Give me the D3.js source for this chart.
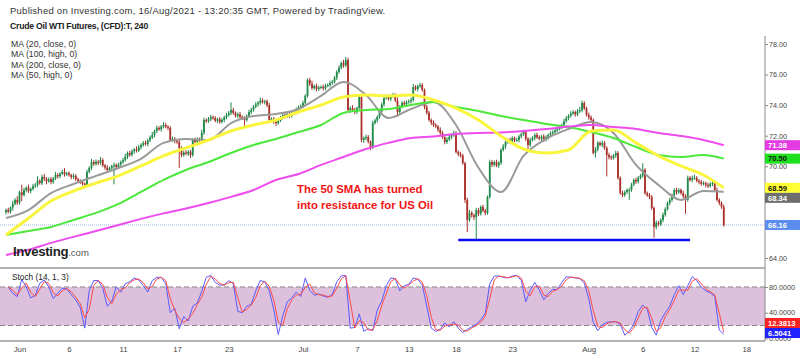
<!DOCTYPE html>
<html><head><meta charset="utf-8">
<script src="https://cdn.jsdelivr.net/npm/d3@7"></script>
<style>body{margin:0;background:#fff}svg{display:block}text{font-family:"Liberation Sans",Arial,sans-serif}</style>
</head><body><svg id="c" width="800" height="357"></svg>
<script>
// ---------- DATA ----------
const headerText="Published on Investing.com, 16/Aug/2021 - 13:20:35 GMT, Powered by TradingView.";
const titleText="Crude Oil WTI Futures, (CFD):T, 240";
const maLegend=["MA (20, close, 0)","MA (100, high, 0)","MA (200, close, 0)","MA (50, high, 0)"];
const firstOpen=67.00;
const closes=[
67.14,67.02,67.30,67.55,67.80,67.62,68.30,68.12,68.45,68.60,
68.38,68.52,68.70,68.78,69.05,68.90,69.30,69.18,69.02,69.15,
68.97,69.20,69.43,69.35,69.52,69.63,69.48,69.55,69.43,69.30,
69.38,69.15,69.05,68.97,68.85,68.78,69.63,69.90,70.28,70.15,
70.30,70.22,70.41,70.05,69.92,69.76,69.88,70.02,70.09,69.95,
70.12,70.28,70.40,70.62,70.87,70.75,70.98,71.10,71.02,71.25,
71.40,71.53,71.45,71.70,71.88,72.05,72.30,72.51,72.42,72.60,
72.70,72.58,72.51,71.72,71.80,71.65,71.59,71.20,70.74,70.90,
70.82,70.95,70.74,71.72,71.60,71.78,71.72,72.20,73.03,72.95,
73.10,73.22,73.16,72.98,73.08,72.90,73.03,73.20,73.35,73.50,
73.68,73.49,73.30,73.40,73.23,73.15,73.03,73.30,73.55,73.70,
73.90,74.05,74.14,74.30,74.20,74.25,74.00,73.03,73.10,72.90,
72.83,73.00,73.20,73.36,73.25,73.40,73.30,73.48,73.55,73.70,
73.85,73.95,74.14,74.60,75.65,75.40,75.12,75.25,75.05,75.15,
75.19,75.10,75.28,75.32,75.45,75.52,75.80,76.17,76.45,76.76,
76.60,76.95,73.68,73.80,73.68,73.55,73.81,74.53,71.72,71.85,
71.92,71.60,71.26,72.83,73.00,73.23,73.60,74.05,74.47,74.55,
74.40,74.60,74.66,74.30,73.55,73.90,74.14,74.05,74.20,74.25,
74.34,75.19,75.05,75.25,75.32,74.99,73.88,73.50,73.03,72.85,
72.70,72.60,72.40,72.18,71.90,71.59,71.75,71.92,72.05,72.18,
70.94,70.80,70.70,70.20,67.80,66.49,66.95,66.80,66.68,67.14,
66.90,67.34,67.10,66.95,67.99,70.28,70.10,70.28,70.05,70.22,
71.07,71.30,71.59,71.72,71.60,71.85,71.70,71.72,71.95,72.10,
72.24,71.80,71.39,71.72,71.85,72.05,71.90,71.80,71.95,71.72,
71.90,72.05,72.15,72.24,72.35,72.45,72.57,72.70,72.95,73.16,
73.30,73.45,73.55,73.40,73.60,73.68,74.14,73.80,73.36,73.20,
73.03,70.87,71.10,71.53,71.40,71.53,71.20,70.74,70.60,70.54,
70.70,70.87,69.24,68.25,68.12,68.30,68.45,68.45,68.80,69.11,
69.00,69.24,69.40,69.76,68.25,68.10,67.99,67.27,66.03,66.30,
66.20,66.49,66.82,67.20,67.60,67.80,68.10,68.45,68.30,68.45,
68.25,68.05,67.80,69.24,69.10,69.24,69.24,69.05,68.97,68.85,
68.90,68.78,68.70,68.85,68.91,68.45,67.80,67.60,67.34,66.16];
const upWick=[
.10,.15,.08,.20,.12,.25,.10,.50,.15,.10,.20,.10,.15,.12,.30,.10,.15,.20,.10,.12,
.15,.10,.20,.12,.10,.15,.25,.10,.12,.08,.15,.10,.12,.10,.08,.10,.15,.10,.20,.12,
.15,.10,.20,.12,.10,.15,.10,.08,.15,.10,.12,.10,.15,.20,.10,.15,.12,.10,.20,.15,
.10,.12,.15,.10,.12,.20,.10,.15,.12,.10,.20,.15,.10,.12,.15,.10,.12,.15,.10,.12,
.15,.10,.12,.10,.15,.12,.10,.20,.15,.10,.12,.15,.10,.12,.10,.15,.12,.10,.15,.12,
.50,.15,.10,.12,.15,.10,.12,.10,.15,.12,.10,.15,.12,.20,.15,.10,.12,.15,.10,.12,
.15,.12,.10,.15,.12,.10,.15,.12,.10,.15,.12,.10,.15,.12,.10,.15,.20,.10,.15,.12,
.10,.15,.12,.10,.15,.12,.10,.12,.15,.10,.20,.20,.15,.12,.20,.15,.10,.15,.12,.10,
.15,.12,.10,.15,.12,.10,.15,.12,.10,.15,.12,.10,.15,.12,.20,.10,.12,.15,.10,.12,
.15,.20,.12,.10,.15,.12,.10,.15,.12,.10,.15,.12,.10,.15,.12,.10,.15,.12,.10,.15,
.12,.10,.15,.12,.10,.15,.20,.12,.10,.15,.12,.10,.15,.12,.10,.15,.12,.10,.15,.12,
.10,.15,.12,.10,.15,.12,.10,.15,.12,.10,.15,.12,.10,.15,.12,.10,.15,.12,.10,.15,
.12,.10,.15,.12,.10,.15,.12,.10,.15,.12,.10,.15,.12,.10,.15,.20,.15,.12,.10,.15,
.12,.10,.15,.12,.10,.15,.12,.10,.15,.12,.10,.15,.12,.10,.15,.12,.10,.15,.12,.10,
.15,.12,.10,.45,.12,.10,.15,.12,.10,.15,.12,.10,.15,.12,.10,.15,.12,.10,.15,.12,
.10,.15,.12,.15,.12,.15,.20,.12,.10,.15,.12,.10,.15,.12,.20,.10,.15,.12,.10,.15];
const downWick=[
.15,.10,.12,.20,.10,.15,.12,.40,.10,.15,.12,.15,.10,.12,.15,.10,.12,.15,.20,.10,
.15,.12,.10,.15,.12,.10,.15,.12,.10,.15,.12,.10,.15,.12,.10,.20,.12,.10,.15,.12,
.10,.15,.12,.10,.15,.12,.10,.15,1.20,.12,.10,.15,.12,.10,.15,.12,.10,.15,.12,.10,
.15,.12,.10,.15,.12,.10,.15,.12,.10,.15,.12,.10,.15,.12,.10,.15,.12,1.30,.15,.12,
.10,.15,.20,.12,.10,.15,.12,.10,.15,.12,.10,.15,.12,.10,.15,.12,.10,.15,.12,.10,
.15,.12,.10,.15,.12,.10,.50,.12,.10,.15,.12,.10,.15,.12,.10,.15,.12,.10,.15,.12,
.20,.12,.10,.15,.12,.10,.15,.12,.10,.15,.12,.10,.15,.12,.10,.15,.12,.10,.15,.12,
.10,.15,.12,.10,.15,.12,.10,.15,.12,.10,.15,.12,.10,.20,.12,.15,.12,.10,.15,.20,
.15,.10,.20,.12,.10,.15,.12,.10,.15,.12,.10,.15,.12,.10,.30,.12,.10,.15,.12,.10,
.15,.12,.10,.15,.12,.10,.15,.12,.10,.15,.12,.10,.15,.12,.10,.15,.12,.10,.15,.12,
.10,.15,.12,.10,.20,.80,.12,.15,.20,1.50,.15,.12,.10,.15,.12,.10,.15,.12,.10,.15,
.12,.10,.15,.12,.10,.15,.12,.10,.15,.12,.10,.15,.40,.12,.10,.15,.12,.10,.15,.12,
.10,.15,.12,.10,.15,.12,.10,.15,.12,.10,.15,.12,.10,.15,.12,.10,.15,.12,.10,.15,
.12,.10,.30,.12,.10,.15,.12,1.40,.15,.12,.10,.15,.12,.10,.15,.12,.10,.65,.12,.10,
.15,.12,.10,.15,.12,.10,.15,.12,.70,.15,.12,.10,.15,.12,.10,.15,.12,.10,.15,.12,
.10,.15,.90,.12,.10,.15,.12,.10,.15,.12,.10,.15,.12,.10,.15,.12,.10,.15,.12,.10];
const maBars=[0,10,20,30,40,50,60,70,80,90,100,110,120,130,140,150,160,170,180,190,200,210,220,230,240,250,260,270,280,290,300,310,319];
const ma20=[66.62,67.14,68.25,68.84,69.37,69.89,70.48,71.53,71.79,71.72,72.83,73.29,73.42,73.75,74.60,75.52,74.66,73.16,73.75,74.20,72.70,69.90,68.32,70.68,71.79,72.44,72.90,72.18,70.09,68.78,67.80,68.38,68.34];
const ma50=[65.51,66.60,67.73,68.38,68.90,69.37,70.02,70.68,71.20,71.72,72.31,72.70,73.03,73.55,74.01,74.53,74.66,74.60,74.66,74.34,73.81,73.03,71.98,71.13,70.87,71.07,72.31,72.38,71.53,70.68,70.02,69.43,68.59];
const ma100=[65.51,65.77,66.03,66.49,66.95,67.54,68.32,69.11,69.76,70.28,70.87,71.39,71.79,72.24,72.70,73.49,73.68,73.75,74.01,74.20,73.88,73.62,73.29,73.03,72.77,72.57,72.24,71.85,71.26,70.74,70.61,70.74,70.50];
const ma200=[64.20,64.53,64.99,65.38,65.77,66.16,66.56,66.92,67.24,67.60,68.00,68.45,69.10,69.50,70.09,70.61,71.13,71.53,71.85,71.95,72.11,72.18,72.21,72.31,72.44,72.60,72.70,72.57,72.44,72.18,71.98,71.72,71.38];
// Stochastic %K, one value every 2 bars (bars 1,3,5,...,319)
const stochK=[80,70,65,92,80,63,67,86,91,80, 62,70,78,77,68,60,48,16,75,90, 90,78,50,58,80,72,85,88,94,91,
82,72,90,95,95,85,40,47,15,34, 27,50,55,73,95,98,87,83,83,90, 85,42,40,50,53,74,90,88,74,45,
6,35,57,63,72,65,94,75,67,69, 66,64,68,88,97,98,16,17,38,11, 15,12,44,58,82,94,93,74,82,84,
94,92,83,50,16,11,14,24,18,26, 16,9,14,18,22,29,39,85,97,97, 95,94,97,98,90,57,75,87,75,60,
70,76,76,87,96,95,94,93,86,62, 25,12,21,25,26,26,22,5,11,22, 42,52,45,17,5,28,40,50,68,82,
68,82,96,90,80,74,71,65,13,6.5];
const stochLastK=6.5041, stochLastD=12.3813;
const priceTicks=[64,66,68,70,72,74,76,78];
const stochTicks=[0,40,80];
const stochBands=[20,80];
const tickBars=[6,28,52,76,99,132,156,179,200,225,259,283,306,329];
const tickLabels=["Jun","6","11","17","23","Jul","7","13","18","23","Aug","6","12","18"];
const support={level:65.18,from:201,to:304};
const noteLines=["The 50 SMA has turned","into resistance for US Oil"];

// ---------- CHART ----------
const svg=d3.select("#c");
const AX=765;
const x=d3.scaleLinear().domain([0,closes.length-1]).range([6,723.75]);
const yM=d3.scaleLinear().domain([64,78]).range([258,44]);
const yS=d3.scaleLinear().domain([0,100]).range([338.4,274.1]);
const UP="#1f8a4a", DN="#a9302b";

// header
svg.append("text").attr("x",10).attr("y",13.5).attr("font-size",9.5).attr("letter-spacing",0.25).attr("fill","#333").text(headerText);
svg.append("text").attr("x",10).attr("y",29.3).attr("font-size",8.7).attr("letter-spacing",-0.25).attr("font-weight","bold").attr("fill","#222").text(titleText);
maLegend.forEach((t,i)=>svg.append("text").attr("x",11).attr("y",47+i*10.4).attr("font-size",8.7).attr("fill","#333").text(t));

// stoch band
svg.append("rect").attr("x",0).attr("width",AX).attr("y",yS(stochBands[1])).attr("height",yS(stochBands[0])-yS(stochBands[1])).attr("fill","#dcc0dc");
stochBands.forEach(v=>svg.append("line").attr("x1",0).attr("x2",AX).attr("y1",yS(v)).attr("y2",yS(v)).attr("stroke","#888").attr("stroke-dasharray","5,3").attr("stroke-width",1));

// last price dotted line
svg.append("line").attr("x1",0).attr("x2",AX).attr("y1",yM(closes[closes.length-1])).attr("y2",yM(closes[closes.length-1]))
  .attr("stroke","#9db7ee").attr("stroke-dasharray","1,1").attr("stroke-width",1);

// candles
const bars=closes.map((c,i)=>{const o=i?closes[i-1]:firstOpen;return {i,o,c,h:Math.max(o,c)+upWick[i],l:Math.min(o,c)-downWick[i]};});
const cg=svg.append("g");
cg.selectAll("line").data(bars).join("line")
  .attr("x1",d=>x(d.i)).attr("x2",d=>x(d.i)).attr("y1",d=>yM(d.h)).attr("y2",d=>yM(d.l))
  .attr("stroke",d=>d.c>=d.o?UP:DN).attr("stroke-width",1);
cg.selectAll("rect").data(bars).join("rect")
  .attr("x",d=>x(d.i)-0.9).attr("width",1.8)
  .attr("y",d=>yM(Math.max(d.o,d.c))).attr("height",d=>Math.max(1,Math.abs(yM(d.o)-yM(d.c))))
  .attr("fill",d=>d.c>=d.o?UP:DN);

// MAs
const maLine=d3.line().x(d=>x(d[0])).y(d=>yM(d[1])).curve(d3.curveMonotoneX);
const mas=[{v:ma20,c:"#9a9a9a",w:2},{v:ma100,c:"#4be83a",w:2},{v:ma200,c:"#ee4cee",w:2},{v:ma50,c:"#f9f53c",w:3}];
mas.forEach(m=>svg.append("path").attr("d",maLine(maBars.map((b,i)=>[b,m.v[i]]))).attr("fill","none").attr("stroke",m.c).attr("stroke-width",m.w));

// support line
svg.append("line").attr("x1",x(support.from)).attr("x2",x(support.to)).attr("y1",yM(support.level)).attr("y2",yM(support.level))
  .attr("stroke","#0a0af0").attr("stroke-width",2.5);

// annotation
const note=svg.append("text").attr("font-family","Lato, 'Open Sans', sans-serif").attr("font-weight","bold").attr("font-size",11.4).attr("fill","#f01414");
noteLines.forEach((t,i)=>note.append("tspan").attr("x",297).attr("y",193+i*15.5).text(t));

// logo
const logo=svg.append("text").attr("x",13).attr("y",256).attr("font-size",13.2).attr("font-weight","bold").attr("fill","#1e1e1e").attr("letter-spacing",-0.3);
logo.append("tspan").text("Investing");
logo.append("tspan").attr("font-size",9.5).attr("font-weight","normal").attr("fill","#555").attr("letter-spacing",0).text(".com");

// stoch lines
const kPts=stochK.map((v,k)=>[Math.min(2*k+1,closes.length-1),v]);
const dPts=kPts.map((p,k)=>[p[0],k?(stochK[k-1]+stochK[k])/2:stochK[0]]);
const sLine=d3.line().x(d=>x(d[0])).y(d=>yS(d[1]));
svg.append("path").attr("d",sLine(kPts)).attr("fill","none").attr("stroke","#5a5aff").attr("stroke-width",1);
svg.append("path").attr("d",sLine(dPts)).attr("fill","none").attr("stroke","#ff4a4a").attr("stroke-width",1);
svg.append("text").attr("x",12).attr("y",280).attr("font-size",8.3).attr("fill","#222").text("Stoch (14, 1, 3)");

// frame lines
svg.append("line").attr("x1",0).attr("x2",AX).attr("y1",268).attr("y2",268).attr("stroke","#9a9a9a").attr("stroke-width",1.5);
svg.append("line").attr("x1",0).attr("x2",AX).attr("y1",341).attr("y2",341).attr("stroke","#9a9a9a").attr("stroke-width",1.5);
svg.append("line").attr("x1",AX).attr("x2",AX).attr("y1",36).attr("y2",341).attr("stroke","#8a8a8a").attr("stroke-width",1);

// value boxes (positions resolved first so covered axis labels can be skipped)
function place(items,h,maxY){items.sort((a,b)=>a.y-b.y);for(let j=1;j<items.length;j++)if(items[j].y<items[j-1].y+h)items[j].y=items[j-1].y+h;
  const n=items.length;if(items[n-1].y>maxY){items[n-1].y=maxY;for(let j=n-2;j>=0;j--)if(items[j].y>items[j+1].y-h)items[j].y=items[j+1].y-h;}return items;}
const last=a=>a[a.length-1];
const mainBoxes=place([
 {v:last(ma200),bg:"#e23ce2",fg:"#fff",f:d3.format(".2f")},
 {v:last(ma100),bg:"#1fe01f",fg:"#111",f:d3.format(".2f")},
 {v:last(ma50),bg:"#ffff33",fg:"#111",f:d3.format(".2f")},
 {v:last(ma20),bg:"#6e6e6e",fg:"#fff",f:d3.format(".2f")},
 {v:last(closes),bg:"#5b8dee",fg:"#fff",f:d3.format(".2f")}].map(d=>({...d,y:yM(d.v)})),10,262);
const stochBoxes=place([
 {v:stochLastD,bg:"#ff2222",fg:"#fff",f:d3.format(".4f")},
 {v:stochLastK,bg:"#2222ff",fg:"#fff",f:d3.format(".4f")}].map(d=>({...d,y:yS(d.v)})),10,333);
const covered=v=>mainBoxes.some(b=>Math.abs(yM(v)-b.y)<7);

// axes
const ay=svg.append("g").attr("transform",`translate(${AX},0)`).call(d3.axisRight(yM).tickValues(priceTicks.filter(v=>!covered(v))).tickFormat(d3.format(".2f")).tickSize(3));
const as=svg.append("g").attr("transform",`translate(${AX},0)`).call(d3.axisRight(yS).tickValues(stochTicks).tickFormat(d3.format(".4f")).tickSize(3));
const axb=svg.append("g").attr("transform","translate(0,341)").call(d3.axisBottom(x).tickValues(tickBars).tickFormat((d,i)=>tickLabels[i]).tickSize(0));
[ay,as,axb].forEach(g=>{g.select(".domain").remove();g.selectAll("text").attr("fill","#444").attr("font-family","Liberation Sans, Arial, sans-serif");g.selectAll("line").attr("stroke","#888");});
ay.selectAll("text").attr("x",4).attr("font-size",7.2);
as.selectAll("text").attr("x",4).attr("font-size",7.2);
axb.selectAll("text").attr("dy",0).attr("y",11).attr("font-size",7.8);

[...mainBoxes,...stochBoxes].forEach(b=>{
  svg.append("rect").attr("x",AX).attr("y",b.y-5).attr("width",800-AX).attr("height",10).attr("fill",b.bg);
  svg.append("text").attr("x",AX+3).attr("y",b.y+2.8).attr("font-size",7.6).attr("font-weight","bold").attr("fill",b.fg).text(b.f(b.v));
});
</script></body></html>
